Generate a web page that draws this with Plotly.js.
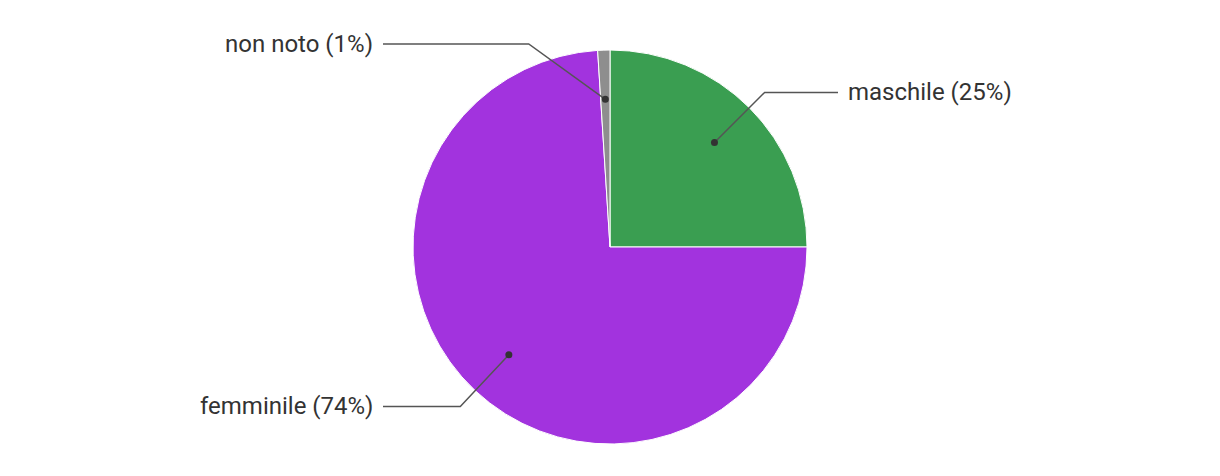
<!DOCTYPE html>
<html>
<head>
<meta charset="utf-8">
<script src="https://cdn.plot.ly/plotly-3.0.1.min.js"></script>
<style>html,body{margin:0;padding:0;background:#fff;}#chart{width:1220px;height:476px;}</style>
</head>
<body>
<div id="chart"></div>
<script>
const categories = ["maschile", "femminile", "non noto"];
const values = [25, 74, 1];
const colors = ["#3a9e51", "#a233de", "#8e8e8e"];

const W = 1220, H = 476;
const cx = 610, cy = 247, R = 197;
const px = x => x / W;
const py = y => 1 - y / H;

const total = values.reduce((a, b) => a + b, 0);
const shapes = [], annotations = [];
let cum = 0;
const leftCol = cx - 227, rightCol = cx + 228;
values.forEach((v, i) => {
  const midFrac = (cum + v / 2) / total;
  cum += v;
  const a = midFrac * 2 * Math.PI; // clockwise from top
  const sx = Math.sin(a), sy = -Math.cos(a);
  const dx = cx + sx * R * 0.75, dy = cy + sy * R * 0.75;
  const r2 = R * 1.11;
  let ey = cy + sy * r2;
  ey = Math.max(ey, 44);
  const side = sx >= 0 ? 1 : -1;
  const ex = cx + side * Math.sqrt(Math.max(r2 * r2 - (ey - cy) * (ey - cy), 0));
  const endX = side > 0 ? rightCol : leftCol;
  shapes.push({type: "path", xref: "paper", yref: "paper",
    path: `M ${px(dx)} ${py(dy)} L ${px(ex)} ${py(ey)} L ${px(endX)} ${py(ey)}`,
    line: {color: "#555555", width: 1.5}});
  shapes.push({type: "circle", xref: "paper", yref: "paper",
    x0: px(dx - 3.5), x1: px(dx + 3.5), y0: py(dy + 3.5), y1: py(dy - 3.5),
    fillcolor: "#333333", line: {width: 0}});
  annotations.push({xref: "paper", yref: "paper",
    x: px(endX + side * 8), y: py(ey),
    xanchor: side > 0 ? "left" : "right", yanchor: "middle",
    text: `${categories[i]} (${Math.round(v / total * 100)}%)`,
    showarrow: false, font: {family: "Roboto, sans-serif", size: 24, color: "#333333"}});
});

const data = [{
  type: "pie",
  labels: categories,
  values: values,
  sort: false,
  direction: "clockwise",
  rotation: 0,
  marker: {colors: colors, line: {color: "#ffffff", width: 1}},
  textinfo: "none",
  hoverinfo: "label+percent",
  domain: {x: [px(cx - R), px(cx + R)], y: [py(cy + R), py(cy - R)]}
}];

const layout = {
  width: W, height: H,
  margin: {l: 0, r: 0, t: 0, b: 0},
  paper_bgcolor: "#ffffff",
  showlegend: false,
  shapes: shapes,
  annotations: annotations
};

Plotly.newPlot("chart", data, layout, {displayModeBar: false, staticPlot: true});
</script>
</body>
</html>
